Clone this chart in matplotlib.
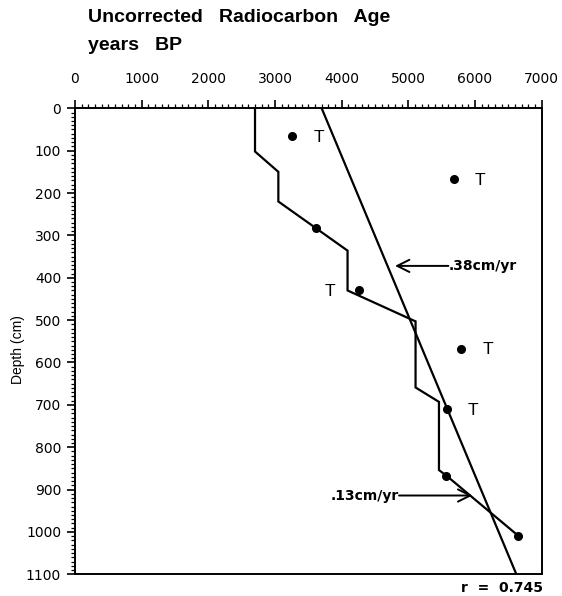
import matplotlib
matplotlib.use('Agg')
import matplotlib.pyplot as plt
from matplotlib.ticker import MultipleLocator

# ---- data ----
age_points = [3260, 5685, 3617, 4265, 5795, 5579, 5570, 6648]
depth_points = [65, 167, 283, 429, 567, 710, 867, 1009]
point_labels = ['T', 'T', '', 'T', 'T', 'T', '', '']

model_age = [2700, 2700, 3050, 3050, 4088, 4088, 5108, 5108, 5459, 5459, 5570, 6648]
model_depth = [0, 102, 150, 220, 336, 430, 503, 659, 693, 854, 867, 1009]

reg_age = [3700, 6620]
reg_depth = [0, 1100]

x_ticks = [0, 1000, 2000, 3000, 4000, 5000, 6000, 7000]
y_ticks = [0, 100, 200, 300, 400, 500, 600, 700, 800, 900, 1000, 1100]

rate_upper = '.38cm/yr'
rate_lower = '.13cm/yr'
r_text = 'r  =  0.745'

fig = plt.figure(figsize=(5.62, 5.96), dpi=100)
ax = fig.add_axes([75/562, 1-574.3/596, (541.7-75)/562, (574.3-108.3)/596])

ax.plot(model_age, model_depth, color='black', lw=1.6, solid_joinstyle='miter')
ax.plot(reg_age, reg_depth, color='black', lw=1.6)
ax.plot(age_points, depth_points, 'o', color='black', ms=5.5)

for a, d, lab in zip(age_points, depth_points, point_labels):
    if not lab:
        continue
    off = -21 if (a, d) == (4265, 429) else 19
    ax.annotate(lab, (a, d), xytext=(off, -1), textcoords='offset points',
                ha='center', va='center', fontsize=12.5, family='Liberation Sans')

# arrows
ax.annotate('', xy=(4800, 372), xytext=(5600, 372),
            arrowprops=dict(arrowstyle='->', lw=1.4, mutation_scale=22, color='black',
                            shrinkA=0, shrinkB=0))
ax.text(5610, 372, rate_upper, ha='left', va='center', fontsize=10, fontweight='bold',
        family='DejaVu Sans')
ax.annotate('', xy=(5960, 914), xytext=(4860, 914),
            arrowprops=dict(arrowstyle='->', lw=1.4, mutation_scale=22, color='black',
                            shrinkA=0, shrinkB=0))
ax.text(4860, 914, rate_lower, ha='right', va='center', fontsize=10, fontweight='bold',
        family='DejaVu Sans')

ax.set_xlim(0, 7000)
ax.set_ylim(1100, 0)
ax.xaxis.tick_top()
ax.set_xticks(x_ticks)
ax.set_yticks(y_ticks)
ax.xaxis.set_minor_locator(MultipleLocator(100))
ax.yaxis.set_minor_locator(MultipleLocator(10))
ax.tick_params(axis='both', which='major', direction='out', length=6, width=1.2,
               labelsize=10, pad=4)
ax.tick_params(axis='both', which='minor', direction='out', length=3, width=0.9)
ax.tick_params(axis='x', which='both', top=True, bottom=False, pad=10)
ax.tick_params(axis='y', which='both', left=True, right=False)
for lab in ax.get_xticklabels() + ax.get_yticklabels():
    lab.set_family('DejaVu Sans')
for s in ax.spines.values():
    s.set_linewidth(1.4)

fig.text(18/562, 1-350/596, 'Depth (cm)', rotation=90, ha='center', va='center',
         fontsize=10, family='Liberation Sans')

fig.text(88/562, 1-18/596, 'Uncorrected   Radiocarbon   Age', ha='left', va='center',
         fontsize=14, fontweight='bold', family='Liberation Sans')
fig.text(88/562, 1-46/596, 'years   BP', ha='left', va='center',
         fontsize=14, fontweight='bold', family='Liberation Sans')

fig.text(543/562, 1-588/596, r_text, ha='right', va='center', fontsize=10,
         fontweight='bold', family='DejaVu Sans')

fig.savefig('out.png', dpi=100)
